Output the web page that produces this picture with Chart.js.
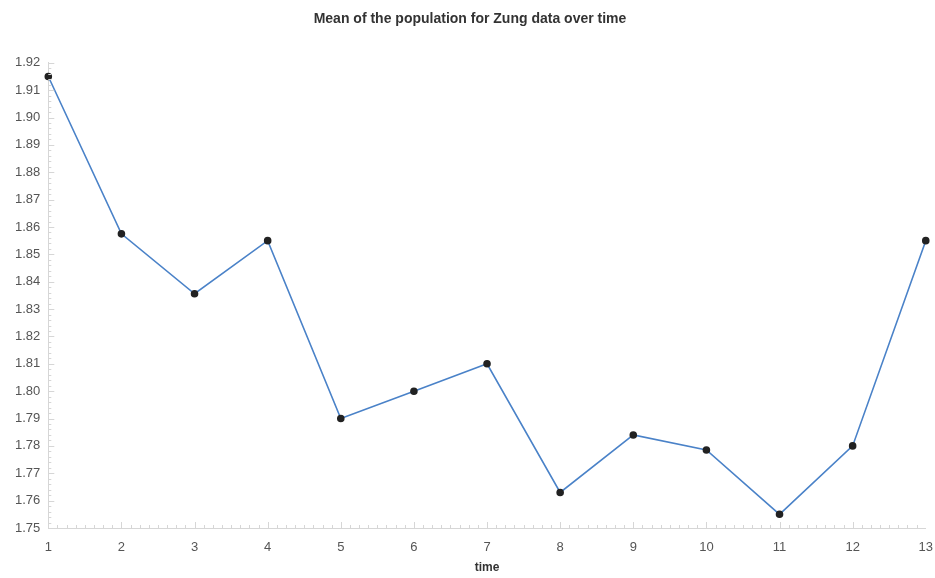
<!DOCTYPE html>
<html>
<head>
<meta charset="utf-8">
<script src="https://cdn.jsdelivr.net/npm/chart.js@4"></script>
<style>
  body { margin: 0; background: #fff; }
  #wrap { width: 935px; height: 578px; position: relative; }
</style>
</head>
<body>
<div id="wrap"><canvas id="zungChart"></canvas></div>
<script>
// данные
const timePoints = [1, 2, 3, 4, 5, 6, 7, 8, 9, 10, 11, 12, 13];
const meanValues = [1.915, 1.8575, 1.8356, 1.855, 1.790, 1.800, 1.810, 1.763, 1.784, 1.7785, 1.755, 1.780, 1.855];
const yMin = 1.75, yMax = 1.92;

// малые деления на осях
const minorTicks = {
    id: 'minorTicks',
    afterDraw(chart) {
        const ctx = chart.ctx;
        const x = chart.scales.x, y = chart.scales.y;
        ctx.save();
        ctx.strokeStyle = '#d6d6d6';
        ctx.lineWidth = 1;
        ctx.beginPath();
        for (let v = 1; v < 13; v += 1 / 8) {
            const px = Math.round(x.getPixelForValue(v)) + 0.5;
            const len = Math.abs(v - Math.round(v)) < 1e-6 ? 6 : 3;
            ctx.moveTo(px, y.bottom);
            ctx.lineTo(px, y.bottom - len);
        }
        for (let i = 0; i <= 85; i++) {
            const v = yMin + i * 0.002;
            const py = Math.round(y.getPixelForValue(v)) + 0.5;
            const len = i % 5 === 0 ? 6 : 3;
            ctx.moveTo(x.left, py);
            ctx.lineTo(x.left + len, py);
        }
        ctx.stroke();
        ctx.restore();
    }
};

new Chart(document.getElementById('zungChart').getContext('2d'), {
    type: 'line',
    data: {
        datasets: [{
            label: 'mean',
            data: timePoints.map((t, i) => ({ x: t, y: meanValues[i] })),
            borderColor: '#4a82c8',
            borderWidth: 1.6,
            pointBackgroundColor: '#222',
            pointBorderColor: '#222',
            pointRadius: 3,
            tension: 0,
            fill: false,
            clip: false
        }]
    },
    options: {
        responsive: true,
        maintainAspectRatio: false,
        animation: false,
        layout: { padding: { left: 7, right: 2, top: 6, bottom: 3 } },
        scales: {
            x: {
                type: 'linear',
                min: 1,
                max: 13,
                grid: { display: false, drawTicks: true, tickLength: 10, tickColor: 'rgba(0,0,0,0)' },
                border: { color: '#d6d6d6' },
                ticks: {
                    stepSize: 1,
                    padding: 2,
                    color: '#555',
                    font: { family: 'Liberation Sans, Arial', size: 13 }
                },
                title: {
                    display: true,
                    text: 'time',
                    color: '#333',
                    padding: { top: 3, bottom: 0 },
                    font: { family: 'Liberation Sans, Arial', size: 12, weight: 'bold' }
                }
            },
            y: {
                min: yMin,
                max: yMax,
                grid: { display: false, drawTicks: false },
                border: { color: '#d6d6d6' },
                ticks: {
                    stepSize: 0.01,
                    padding: 8,
                    color: '#555',
                    font: { family: 'Liberation Sans, Arial', size: 13 },
                    callback: v => v.toFixed(2)
                }
            }
        },
        plugins: {
            legend: { display: false },
            tooltip: { enabled: false },
            title: {
                display: true,
                text: 'Mean of the population for Zung data over time',
                color: '#333',
                padding: { top: 5, bottom: 35 },
                font: { family: 'Liberation Sans, Arial', size: 14, weight: 'bold' }
            }
        }
    },
    plugins: [minorTicks]
});
</script>
</body>
</html>
